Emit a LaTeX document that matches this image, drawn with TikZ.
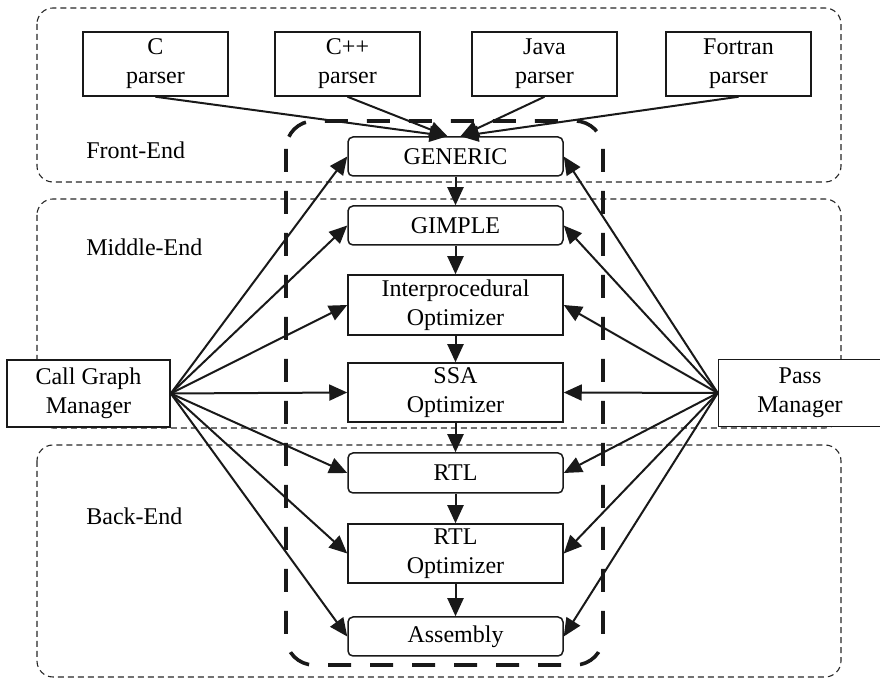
\documentclass[tikz,border=0pt]{standalone}
\usepackage{fontspec}
\setmainfont{Liberation Serif}
\usetikzlibrary{arrows.meta}
\begin{document}
\begin{tikzpicture}[x=0.5pt,y=-0.5pt,
  font=\fontsize{12}{14.5}\selectfont,
  ink/.style={draw=black!90},
  region/.style={draw=black!85, line width=0.55pt, dash pattern=on 3pt off 2pt, rounded corners=8pt},
  flowzone/.style={draw=black!90, line width=1.8pt, dash pattern=on 11.5pt off 9.5pt, rounded corners=14pt},
  box/.style={ink, fill=white, line width=0.75pt, align=center, inner sep=0pt, minimum width=107.5pt},
  rbox/.style={box, rounded corners=2.5pt},
  parser/.style={ink, fill=white, line width=0.75pt, align=center, inner sep=0pt, minimum width=72.5pt, minimum height=32pt},
  manager/.style={ink, fill=white, line width=0.75pt, align=center, inner sep=0pt, minimum width=81.5pt, minimum height=33.5pt},
  flow/.style={draw=black!90, line width=1pt, -{Triangle[length=9pt,width=8pt]}},
  zonelabel/.style={anchor=west, inner sep=0pt}
]
\useasboundingbox (0,0) rectangle (880,678);

% compiler stages
\draw[region] (37,8) rectangle (841,182);
\draw[region] (37,199) rectangle (841,428);
\draw[region] (37,445) rectangle (841,677);
\node[zonelabel] (fe) at (86,150) {Front-End};
\node[zonelabel] (me) at (86,247) {Middle-End};
\node[zonelabel] (be) at (86,516) {Back-End};

% the chain of intermediate representations
\draw[flowzone] (286,121) rectangle (603,665);

% parsers
\node[parser] (cp)   at (155.5,64) {C\\parser};
\node[parser] (cpp)  at (347.5,64) {C++\\parser};
\node[parser] (jp)   at (544.5,64) {Java\\parser};
\node[parser] (fp)   at (738.5,64) {Fortran\\parser};

% central pipeline
\node[rbox, minimum height=19.5pt] (generic) at (455.5,156.5) {GENERIC};
\node[rbox, minimum height=19.5pt] (gimple)  at (455.5,225.5) {GIMPLE};
\node[box,  minimum height=30pt]   (ipo)     at (455.5,305)   {Interprocedural\\Optimizer};
\node[box,  minimum height=29.5pt] (ssa)     at (455.5,392.5) {SSA\\Optimizer};
\node[rbox, minimum height=20pt]   (rtl)     at (455.5,473)   {RTL};
\node[box,  minimum height=29.5pt] (rtlo)    at (455.5,553.5) {RTL\\Optimizer};
\node[rbox, minimum height=19.5pt] (asm)     at (455.5,636.5) {Assembly};

% managers
\node[manager] (cgm) at (88.5,393.5) {Call Graph\\Manager};
\node[manager] (pm)  at (800,393)    {Pass\\Manager};

% parser outputs
\coordinate (inL) at ([xshift=-4pt]generic.north);
\coordinate (inR) at ([xshift=2.5pt]generic.north);
\draw[flow] (cp.south)  -- (inL);
\draw[flow] (cpp.south) -- (inL);
\draw[flow] (jp.south)  -- (inR);
\draw[flow] (fp.south)  -- (inR);

% pipeline
\draw[flow] (generic) -- (gimple);
\draw[flow] (gimple) -- (ipo);
\draw[flow] (ipo) -- (ssa);
\draw[flow] (ssa) -- (rtl);
\draw[flow] (rtl) -- (rtlo);
\draw[flow] (rtlo) -- (asm);

% managers driving every stage
\foreach \s in {generic,gimple,ipo,ssa,rtl,rtlo,asm}{
  \draw[flow] (cgm.east) -- (\s.west);
  \draw[flow] (pm.west) -- (\s.east);
}
\end{tikzpicture}
\end{document}
